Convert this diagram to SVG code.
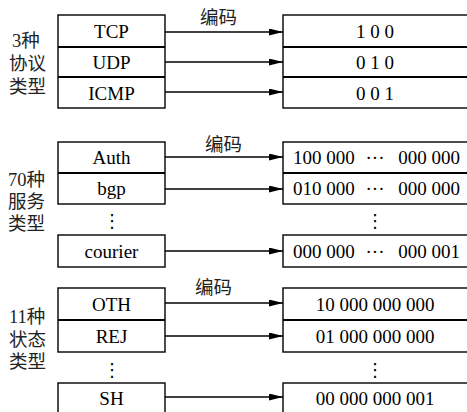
<svg xmlns="http://www.w3.org/2000/svg" width="467" height="412" viewBox="0 0 467 412">
<defs>
<marker id="arr" markerUnits="userSpaceOnUse" markerWidth="15" markerHeight="8" refX="14" refY="3.5" orient="auto">
<path d="M0,0 L14,3.5 L0,7 z" fill="#000"/>
</marker>
</defs>
<style>
.box{fill:#fff;stroke:#000;stroke-width:1.4}
.sep{stroke:#000;stroke-width:1.8}
.t{font-family:'Liberation Serif','Times New Roman','DejaVu Serif',serif;font-size:19px;fill:#000}
.c{text-anchor:middle}
.e{text-anchor:end}
.cn{font-family:'Liberation Serif','Noto Sans CJK SC',serif;font-size:18.5px;fill:#222}
.dot{font-family:'DejaVu Sans',sans-serif;font-size:18px;text-anchor:middle;fill:#000}
.conn line{stroke:#000;stroke-width:1.3;marker-end:url(#arr)}
</style>
<rect width="467" height="412" fill="#fff"/>

<g id="label1">
<text class="cn" x="12" y="46.5">3种</text>
<text class="cn" x="9" y="70">协议</text>
<text class="cn" x="9" y="93">类型</text>
</g>
<text id="enc1" class="cn" x="200" y="24">编码</text>
<g id="proto-src">
<rect class="box" x="58" y="15" width="107" height="93"/>
<line class="sep" x1="58" y1="47" x2="165" y2="47"/>
<line class="sep" x1="58" y1="77" x2="165" y2="77"/>
<text class="t c" x="111.5" y="38">TCP</text>
<text class="t c" x="111.5" y="69">UDP</text>
<text class="t c" x="111.5" y="99.5">ICMP</text>
</g>
<g id="proto-dst">
<rect class="box" x="283" y="15" width="186" height="93"/>
<line class="sep" x1="283" y1="47" x2="469" y2="47"/>
<line class="sep" x1="283" y1="77" x2="469" y2="77"/>
<text class="t c" x="375" y="38">1 0 0</text>
<text class="t c" x="375" y="69">0 1 0</text>
<text class="t c" x="375" y="99.5">0 0 1</text>
</g>

<g id="label2">
<text class="cn" x="8" y="186">70种</text>
<text class="cn" x="8" y="208">服务</text>
<text class="cn" x="8" y="230">类型</text>
</g>
<text id="enc2" class="cn" x="205" y="151">编码</text>
<g id="svc-src">
<rect class="box" x="58" y="142" width="107" height="62"/>
<line class="sep" x1="58" y1="173" x2="165" y2="173"/>
<text class="t c" x="111.5" y="164">Auth</text>
<text class="t c" x="111.5" y="194.5">bgp</text>
<text class="dot" x="112" y="227">⋮</text>
<rect class="box" x="58" y="235" width="107" height="32"/>
<text class="t c" x="111.5" y="257.5">courier</text>
</g>
<g id="svc-dst">
<rect class="box" x="283" y="142" width="186" height="62"/>
<line class="sep" x1="283" y1="173" x2="469" y2="173"/>
<text class="t" x="293" y="164">100 000</text>
<text class="t c" x="375" y="164">···</text>
<text class="t e" x="460" y="164">000 000</text>
<text class="t" x="293" y="194.5">010 000</text>
<text class="t c" x="375" y="194.5">···</text>
<text class="t e" x="460" y="194.5">000 000</text>
<text class="dot" x="375" y="227">⋮</text>
<rect class="box" x="283" y="235" width="186" height="32"/>
<text class="t" x="293" y="257.5">000 000</text>
<text class="t c" x="375" y="257.5">···</text>
<text class="t e" x="460" y="257.5">000 001</text>
</g>

<g id="label3">
<text class="cn" x="9" y="323">11种</text>
<text class="cn" x="9" y="345.5">状态</text>
<text class="cn" x="9" y="367.5">类型</text>
</g>
<text id="enc3" class="cn" x="195" y="294">编码</text>
<g id="state-src">
<rect class="box" x="58" y="288" width="107" height="64"/>
<line class="sep" x1="58" y1="320" x2="165" y2="320"/>
<text class="t c" x="111.5" y="310.5">OTH</text>
<text class="t c" x="111.5" y="342.5">REJ</text>
<text class="dot" x="112" y="376">⋮</text>
<rect class="box" x="58" y="383" width="107" height="40"/>
<text class="t c" x="111.5" y="405">SH</text>
</g>
<g id="state-dst">
<rect class="box" x="283" y="288" width="186" height="64"/>
<line class="sep" x1="283" y1="320" x2="469" y2="320"/>
<text class="t c" x="375" y="310.5">10 000 000 000</text>
<text class="t c" x="375" y="342.5">01 000 000 000</text>
<text class="dot" x="375" y="376">⋮</text>
<rect class="box" x="283" y="383" width="186" height="40"/>
<text class="t c" x="375" y="405">00 000 000 001</text>
</g>

<g id="connectors" class="conn">
<line x1="165" y1="32" x2="283" y2="32"/>
<line x1="165" y1="62" x2="283" y2="62"/>
<line x1="165" y1="92" x2="283" y2="92"/>
<line x1="165" y1="157" x2="283" y2="157"/>
<line x1="165" y1="189" x2="283" y2="189"/>
<line x1="165" y1="251" x2="283" y2="251"/>
<line x1="165" y1="303" x2="283" y2="303"/>
<line x1="165" y1="336" x2="283" y2="336"/>
<line x1="165" y1="397" x2="283" y2="397"/>
</g>
</svg>
